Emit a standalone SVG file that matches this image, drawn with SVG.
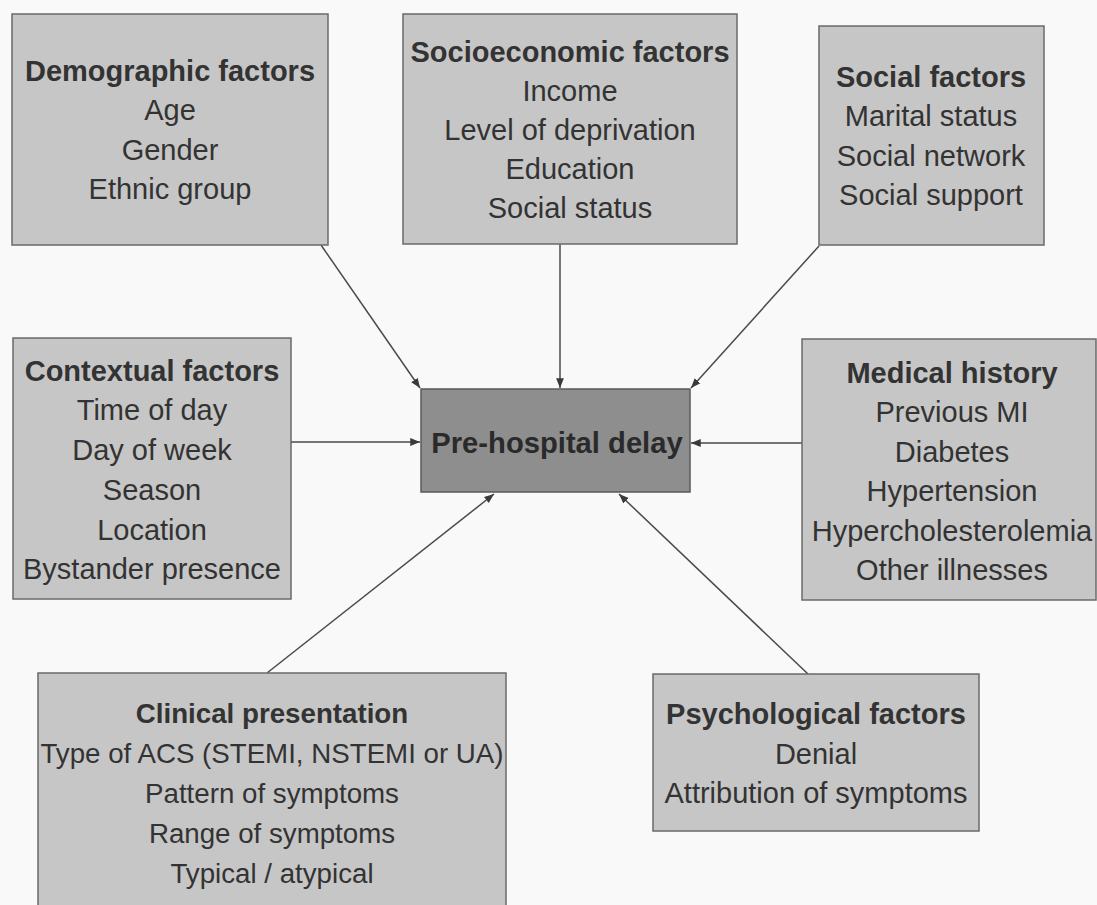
<svg xmlns="http://www.w3.org/2000/svg" width="1097" height="905" viewBox="0 0 1097 905">
<defs>
<style>
.box{fill:#c6c6c6;stroke:#6a6a6a;stroke-width:1.5}
.core{fill:#8e8e8e;stroke:#5a5a5a;stroke-width:1.5}
text{font-family:"Liberation Sans",Arial,sans-serif;fill:#333;text-anchor:middle;font-size:29px}
.t{font-weight:bold}
.c{font-weight:bold;font-size:29.2px;fill:#2a2a2a}
.s{font-size:27.7px}
.ln{stroke:#4a4a4a;stroke-width:1.5;fill:none;marker-end:url(#ah)}
</style>
<marker id="ah" viewBox="0 0 10 10" refX="10" refY="5" markerWidth="6.5" markerHeight="6.5" orient="auto" markerUnits="strokeWidth">
<path d="M0,1 L10,5 L0,9 z" fill="#3a3a3a"/>
</marker>
</defs>
<rect width="1097" height="905" fill="#f9f9f9"/>
<g id="connectors">
<line class="ln" x1="321" y1="245" x2="420" y2="388"/>
<line class="ln" x1="560" y1="244" x2="560" y2="388"/>
<line class="ln" x1="819" y1="246" x2="691" y2="388"/>
<line class="ln" x1="291" y1="442" x2="420" y2="442"/>
<line class="ln" x1="802" y1="443" x2="691" y2="443"/>
<line class="ln" x1="267" y1="673" x2="494" y2="494"/>
<line class="ln" x1="808" y1="674" x2="619" y2="494"/>
</g>
<g id="demographic">
<rect class="box" x="12" y="14" width="316" height="231"/>
<text class="t" x="170" y="81">Demographic factors</text>
<text x="170" y="120">Age</text>
<text x="170" y="160">Gender</text>
<text x="170" y="199">Ethnic group</text>
</g>
<g id="socioeconomic">
<rect class="box" x="403" y="14" width="334" height="230"/>
<text class="t" x="570" y="62">Socioeconomic factors</text>
<text x="570" y="101">Income</text>
<text x="570" y="140">Level of deprivation</text>
<text x="570" y="179">Education</text>
<text x="570" y="218">Social status</text>
</g>
<g id="social">
<rect class="box" x="819" y="26" width="225" height="219"/>
<text class="t" x="931" y="87">Social factors</text>
<text x="931" y="126">Marital status</text>
<text x="931" y="166">Social network</text>
<text x="931" y="205">Social support</text>
</g>
<g id="contextual">
<rect class="box" x="13" y="338" width="278" height="261"/>
<text class="t" x="152" y="381">Contextual factors</text>
<text x="152" y="420">Time of day</text>
<text x="152" y="460">Day of week</text>
<text x="152" y="500">Season</text>
<text x="152" y="540">Location</text>
<text x="152" y="579">Bystander presence</text>
</g>
<g id="prehospital">
<rect class="core" x="421" y="389" width="269" height="103"/>
<text class="c" x="557" y="453">Pre-hospital delay</text>
</g>
<g id="medical">
<rect class="box" x="802" y="339" width="294" height="261"/>
<text class="t" x="952" y="383">Medical history</text>
<text x="952" y="422">Previous MI</text>
<text x="952" y="462">Diabetes</text>
<text x="952" y="501">Hypertension</text>
<text x="952" y="541">Hypercholesterolemia</text>
<text x="952" y="580">Other illnesses</text>
</g>
<g id="clinical">
<rect class="box" x="38" y="673" width="468" height="245"/>
<text class="t s" x="272" y="723">Clinical presentation</text>
<text class="s" x="272" y="763">Type of ACS (STEMI, NSTEMI or UA)</text>
<text class="s" x="272" y="803">Pattern of symptoms</text>
<text class="s" x="272" y="843">Range of symptoms</text>
<text class="s" x="272" y="883">Typical / atypical</text>
</g>
<g id="psychological">
<rect class="box" x="653" y="674" width="326" height="157"/>
<text class="t" x="816" y="724">Psychological factors</text>
<text x="816" y="764">Denial</text>
<text x="816" y="803">Attribution of symptoms</text>
</g>
</svg>
